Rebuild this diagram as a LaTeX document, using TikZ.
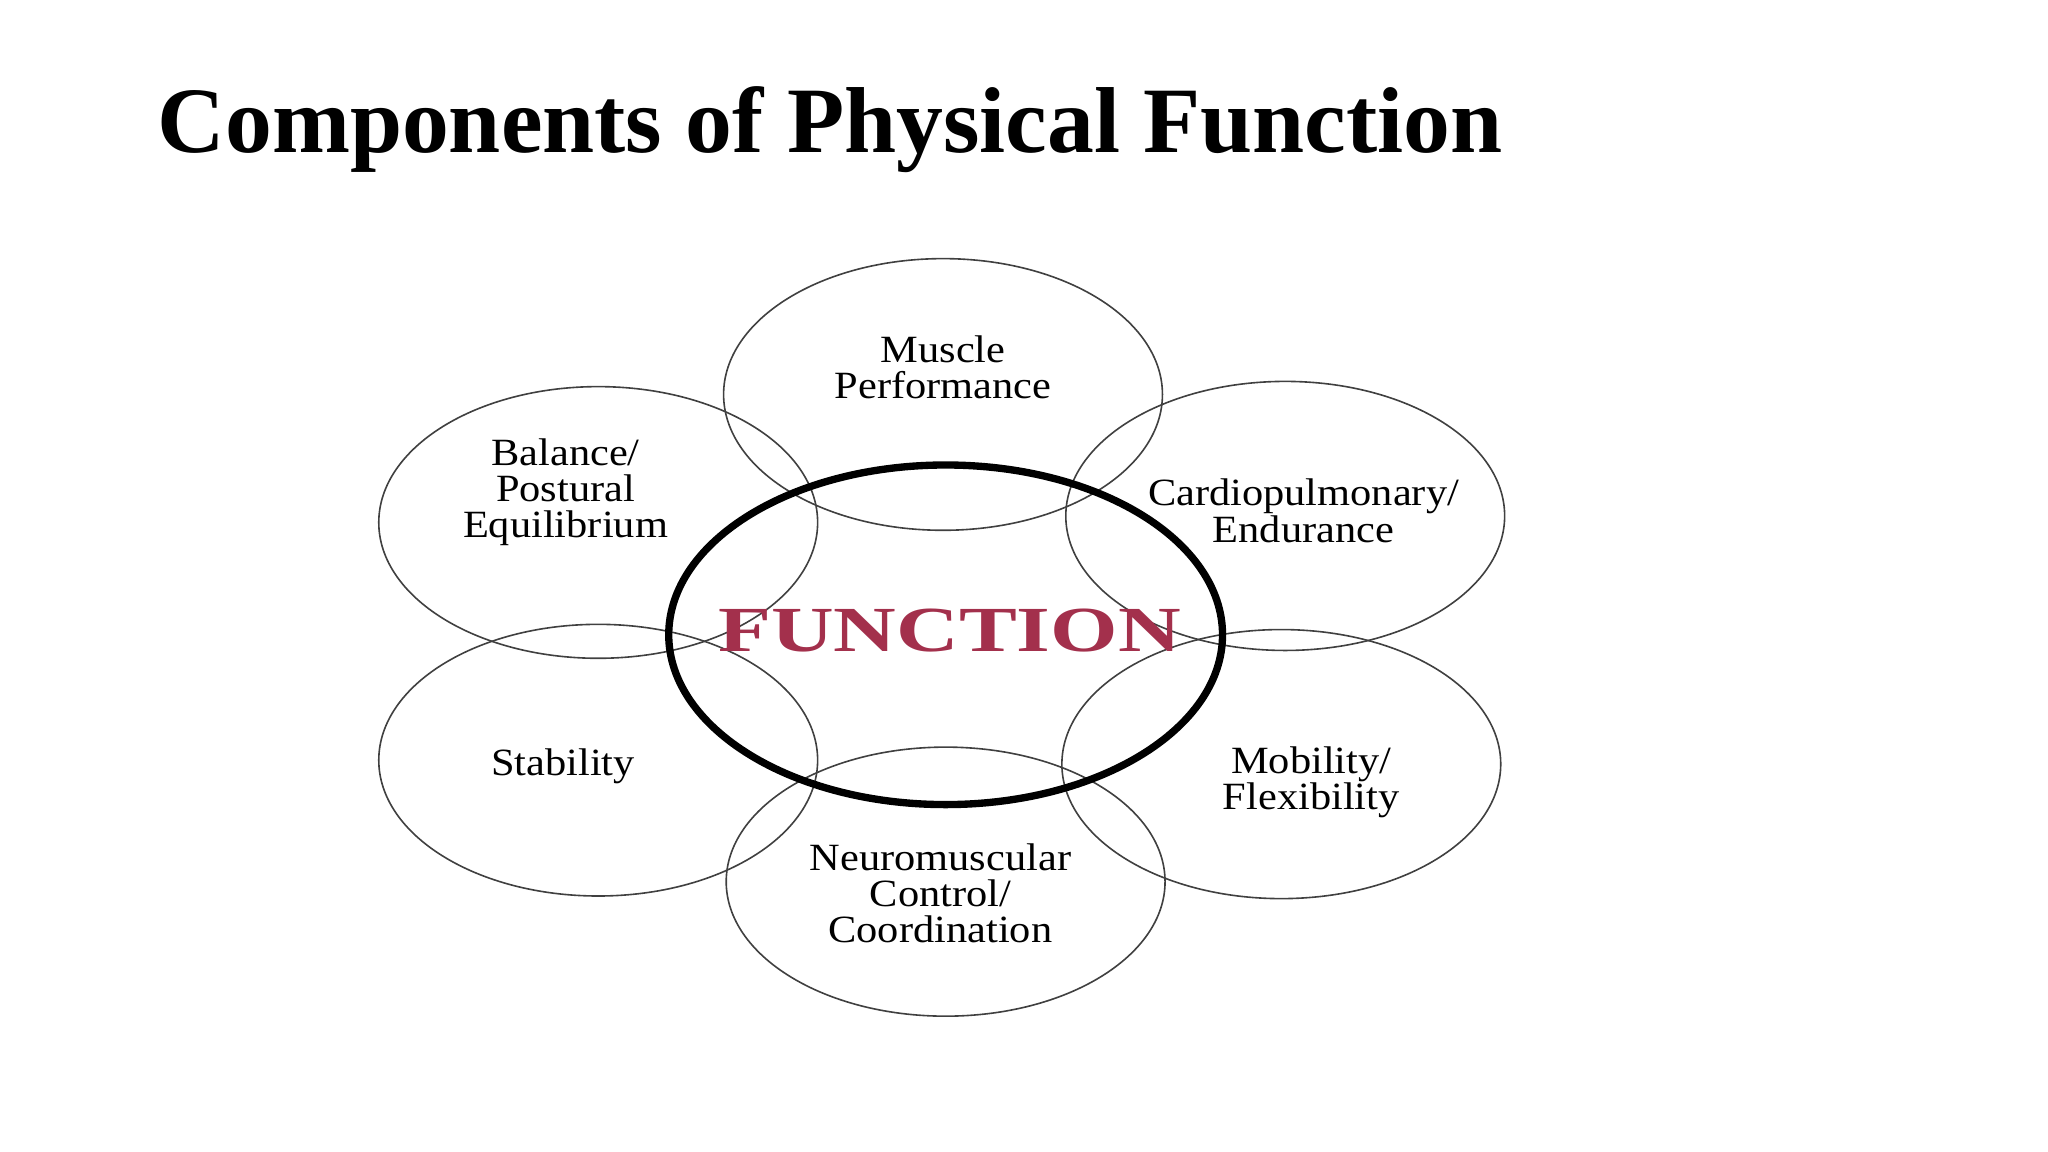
\documentclass[tikz,border=0pt]{standalone}
\usepackage{fontspec}
\setmainfont{Liberation Serif}
\definecolor{fred}{HTML}{A3304C}
\begin{document}
\begin{tikzpicture}[x=0.1mm,y=-0.1mm,
  circ/.style={draw=black!75,line width=0.35pt},
  lab/.style={align=center,font=\fontsize{8.4}{7.9}\selectfont,inner sep=0pt}]
\useasboundingbox (0,0) rectangle (1568,882);
\node[anchor=base west,inner sep=0pt,font=\fontsize{20.4}{24}\selectfont\bfseries] (title) at (120,117) {Components of Physical Function};
\draw[circ] (722,302) ellipse [x radius=168,y radius=104];
\draw[circ] (458,400) ellipse [x radius=168,y radius=104];
\draw[circ] (984,395) ellipse [x radius=168,y radius=103];
\draw[circ] (458,582) ellipse [x radius=168,y radius=104];
\draw[circ] (981,585) ellipse [x radius=168,y radius=103];
\draw[circ] (724,675) ellipse [x radius=168,y radius=103];
\draw[line width=1.6pt] (724,486) ellipse [x radius=212,y radius=130];
\node[lab,xscale=1.1] (m) at (722,281) {Muscle\\Performance};
\node[lab,xscale=1.1] (b) at (433,377) {Balance/\\Postural\\Equilibrium};
\node[lab,xscale=1.1] (c) at (998,391) {Cardiopulmonary/\\Endurance};
\node[lab,xscale=1.1] (s) at (431,587) {Stability};
\node[lab,xscale=1.1] (mo) at (1004,599) {Mobility/\\Flexibility};
\node[lab,xscale=1.1] (n) at (720,684) {Neuromuscular\\Control/\\Coordination};
\node[inner sep=0pt,text=fred,font=\fontsize{14}{17}\selectfont\bfseries,xscale=1.35] (f) at (727,483) {FUNCTION};
\end{tikzpicture}
\end{document}
